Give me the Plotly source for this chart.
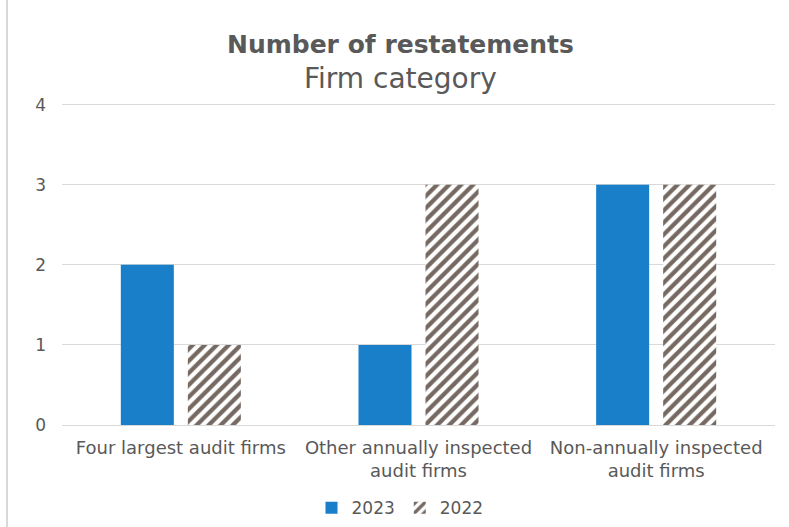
import plotly.graph_objects as go

categories = ["Four largest audit firms", "Other annually inspected<br>audit firms", "Non-annually inspected<br>audit firms"]
values_2023 = [2, 1, 3]
values_2022 = [1, 3, 3]
y_ticks = [0, 1, 2, 3, 4]

FONT = "DejaVu Sans"
GREY = "#595959"

fig = go.Figure()
fig.add_trace(go.Bar(
    x=categories, y=values_2023, name="2023",
    marker=dict(color="#1a7fc9", line=dict(width=0)),
))
fig.add_trace(go.Bar(
    x=categories, y=values_2022, name="2022",
    marker=dict(color="white", line=dict(width=0),
                pattern=dict(shape="/", fgcolor="#756961", bgcolor="white", size=8.5, solidity=0.5,
                             fgopacity=1)),
))

W, H = 789, 527
ml, mr, mt, mb = 62, 14, 103.4, 102
pw = W - ml - mr
ph = H - mt - mb

fig.update_layout(
    width=W, height=H,
    margin=dict(l=ml, r=mr, t=mt, b=mb, autoexpand=False, pad=0),
    paper_bgcolor="white", plot_bgcolor="white",
    font=dict(family=FONT, color=GREY, size=17),
    barmode="group", bargap=0.436, bargroupgap=0.209,
    showlegend=True,
    legend=dict(orientation="h", x=(400 - ml) / pw, xanchor="center", y=-(508 - 425) / ph, yanchor="middle",
                font=dict(size=17, color=GREY), itemwidth=30, traceorder="normal"),
    xaxis=dict(showgrid=False, showline=False, ticks="", automargin=False, ticklabelstandoff=10,
               tickfont=dict(size=18, color=GREY)),
    yaxis=dict(range=[0, 4.02], tickvals=y_ticks, showgrid=True, gridcolor="#d9d9d9", gridwidth=1,
               zeroline=True, zerolinecolor="#d9d9d9", zerolinewidth=1, showline=False, automargin=False,
               ticks="", ticklabelstandoff=15, tickfont=dict(size=17, color=GREY)),
    shapes=[dict(type="line", xref="paper", yref="paper",
                 x0=(7 - ml) / pw, x1=(7 - ml) / pw, y0=(H - mb) / ph, y1=-(mb) / ph,
                 line=dict(color="#d9d9d9", width=2))],
    annotations=[
        dict(text="<b>Number of restatements</b>", xref="paper", yref="paper",
             x=(400 - ml) / pw, y=(425 - 45) / ph, xanchor="center", yanchor="middle",
             showarrow=False, font=dict(size=25, color=GREY, family=FONT)),
        dict(text="Firm category", xref="paper", yref="paper",
             x=(400 - ml) / pw, y=(425 - 79) / ph, xanchor="center", yanchor="middle",
             showarrow=False, font=dict(size=28, color=GREY, family=FONT)),
    ],
)

fig.write_html("out.html", config={"displayModeBar": False},
               post_script="document.body.style.margin='0';document.body.style.overflow='hidden';")
